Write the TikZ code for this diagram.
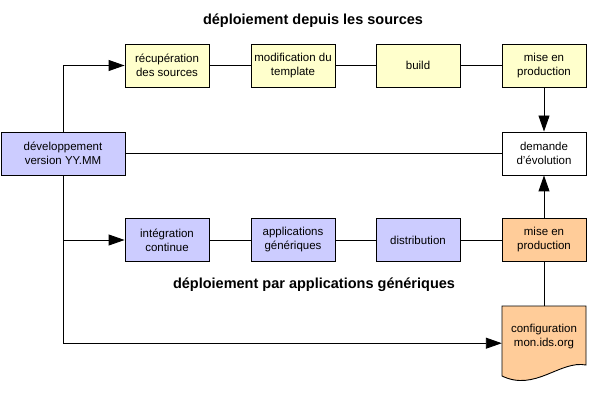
\documentclass[tikz,border=0pt]{standalone}
\usepackage{fontspec}
\setmainfont{Liberation Sans}
\usepackage{xcolor}
\usetikzlibrary{arrows.meta}
\definecolor{jaune}{RGB}{255,255,204}
\definecolor{bleu}{RGB}{204,204,255}
\definecolor{orangeclair}{RGB}{255,204,153}

\begin{document}
\begin{tikzpicture}[x=1pt,y=-1pt,
	boite/.style={draw,line width=0.9pt,minimum width=84pt,minimum height=43pt,
		inner sep=1pt,align=center,font=\fontsize{11.5}{14}\selectfont},
	lien/.style={line width=0.9pt},
	fleche/.style={-{Triangle[length=16pt,width=11pt]}}]
			\useasboundingbox (0,0) rectangle (609,403);
			% Titres
			\node[font=\bfseries\fontsize{14.5}{17}\selectfont] (titreA) at (313,21) {déploiement depuis les sources};
			\node[font=\bfseries\fontsize{14.5}{17}\selectfont] (titreB) at (314,285) {déploiement par applications génériques};
			% Boîtes
			\node[boite,fill=bleu,minimum width=124pt] (dev) at (63,153.5) {développement\\version YY.MM};
			\node[boite,fill=jaune] (recup) at (167,65.5) {récupération\\des sources};
			\node[boite,fill=jaune] (modif) at (293,65.5) {modification du\\template};
			\node[boite,fill=jaune] (build) at (418,65.5) {build};
			\node[boite,fill=jaune] (miseA) at (544,65.5) {mise en\\production};
			\node[boite,fill=white] (demande) at (544,153.5) {demande\\d'évolution};
			\node[boite,fill=bleu] (integ) at (167,240) {intégration\\continue};
			\node[boite,fill=bleu] (appli) at (293,240) {applications\\génériques};
			\node[boite,fill=bleu] (distrib) at (418,240) {distribution};
			\node[boite,fill=orangeclair] (miseB) at (544,240) {mise en\\production};
			% Document de configuration
			\draw[lien,fill=orangeclair] (502,306) -- (586,306) -- (586,365)
				.. controls (560,360) and (535,392) .. (502,376) -- cycle;
			\node[minimum width=84pt,minimum height=60pt,inner sep=1pt,align=center,
				font=\fontsize{11.5}{14}\selectfont,anchor=north] (config) at (544,306) {configuration\\mon.ids.org};
			% Liens
			\foreach \a/\b in {recup/modif,modif/build,build/miseA,integ/appli,appli/distrib,distrib/miseB}
			\draw[lien] (\a) -- (\b);
			\draw[lien,fleche] (dev.north) |- (recup.west);
			\draw[lien,fleche] (dev.south) |- (integ.west);
			\draw[lien,fleche] (dev.south) |- ([yshift=-7pt]config.west);
			\draw[lien] (dev.east) -- (demande.west);
			\draw[lien,fleche] (miseA.south) -- (demande.north);
			\draw[lien,fleche] (miseB.north) -- (demande.south);
			\draw[lien] (config.north) -- (miseB.south);
		\end{tikzpicture}
\end{document}
